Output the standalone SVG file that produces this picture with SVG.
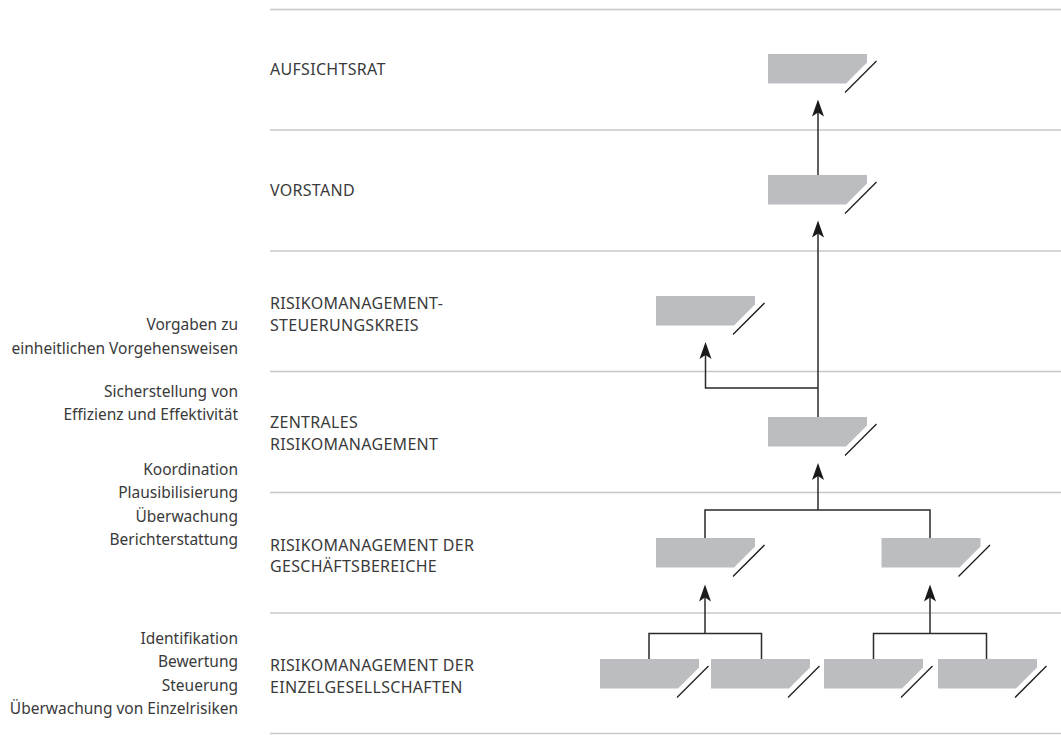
<svg xmlns="http://www.w3.org/2000/svg" xmlns:xlink="http://www.w3.org/1999/xlink" width="1061" height="735" viewBox="0 0 1061 735">
<style>
.sep{stroke:#c8c8c8;stroke-width:1.6;fill:none}
.lbl{font-family:"Noto Sans","Liberation Sans",sans-serif;font-size:16px;fill:#3a3a3a;letter-spacing:0.3px}
.note{font-family:"Noto Sans","Liberation Sans",sans-serif;font-size:15.5px;fill:#3a3a3a;text-anchor:end}
.con{stroke:#2a2a2a;stroke-width:1.5;fill:none}
</style>
<defs>
<marker id="arr" markerUnits="userSpaceOnUse" markerWidth="18" markerHeight="14" viewBox="0 -7 18 14" refX="8" refY="0" orient="auto">
<path d="M17,0 L0,-6 L4,0 L0,6 Z" fill="#1a1a1a"/>
</marker>
<g id="sb">
<path d="M0,0 H99 V8.5 L78,29.5 H0 Z" fill="#bcbdc0"/>
<line x1="108.5" y1="7" x2="77" y2="38.5" stroke="#1a1a1a" stroke-width="1.3"/>
</g>
</defs>
<rect width="1061" height="735" fill="#ffffff"/>
<g id="separators">
<line class="sep" x1="270" y1="9.5" x2="1061" y2="9.5"/>
<line class="sep" x1="270" y1="130" x2="1061" y2="130"/>
<line class="sep" x1="270" y1="251" x2="1061" y2="251"/>
<line class="sep" x1="270" y1="371.5" x2="1061" y2="371.5"/>
<line class="sep" x1="270" y1="492.5" x2="1061" y2="492.5"/>
<line class="sep" x1="270" y1="613" x2="1061" y2="613"/>
<line class="sep" x1="270" y1="733.5" x2="1061" y2="733.5"/>
</g>
<g id="level-labels">
<text class="lbl" x="270" y="75">AUFSICHTSRAT</text>
<text class="lbl" x="270" y="195.5">VORSTAND</text>
<text class="lbl" x="270" y="309">RISIKOMANAGEMENT-</text>
<text class="lbl" x="270" y="330.5">STEUERUNGSKREIS</text>
<text class="lbl" x="270" y="428">ZENTRALES</text>
<text class="lbl" x="270" y="449.5">RISIKOMANAGEMENT</text>
<text class="lbl" x="270" y="550.5">RISIKOMANAGEMENT DER</text>
<text class="lbl" x="270" y="572">GESCHÄFTSBEREICHE</text>
<text class="lbl" x="270" y="671">RISIKOMANAGEMENT DER</text>
<text class="lbl" x="270" y="692.5">EINZELGESELLSCHAFTEN</text>
</g>
<g id="notes">
<text class="note" x="238" y="330">Vorgaben zu</text>
<text class="note" x="238" y="353.5">einheitlichen Vorgehensweisen</text>
<text class="note" x="238" y="396.5">Sicherstellung von</text>
<text class="note" x="238" y="420">Effizienz und Effektivität</text>
<text class="note" x="238" y="474.5">Koordination</text>
<text class="note" x="238" y="498">Plausibilisierung</text>
<text class="note" x="238" y="521.5">Überwachung</text>
<text class="note" x="238" y="545">Berichterstattung</text>
<text class="note" x="238" y="643.5">Identifikation</text>
<text class="note" x="238" y="667">Bewertung</text>
<text class="note" x="238" y="690.5">Steuerung</text>
<text class="note" x="238" y="714">Überwachung von Einzelrisiken</text>
</g>
<g id="connectors">
<path class="con" d="M818,175 V108.5" marker-end="url(#arr)"/>
<path class="con" d="M818,417 V229.5" marker-end="url(#arr)"/>
<path class="con" d="M818,388 H705.5 V351" marker-end="url(#arr)"/>
<path class="con" d="M705,538 V510 H930 V538"/>
<path class="con" d="M818,510 V472" marker-end="url(#arr)"/>
<path class="con" d="M649,659 V633.5 H761.5 V659"/>
<path class="con" d="M705,633.5 V593.5" marker-end="url(#arr)"/>
<path class="con" d="M873.5,659 V633.5 H986.5 V659"/>
<path class="con" d="M930,633.5 V593.5" marker-end="url(#arr)"/>
</g>
<g id="node-aufsichtsrat"><use xlink:href="#sb" transform="translate(768,54)"/></g>
<g id="node-vorstand"><use xlink:href="#sb" transform="translate(768,175)"/></g>
<g id="node-steuerungskreis"><use xlink:href="#sb" transform="translate(656,296)"/></g>
<g id="node-zentrales"><use xlink:href="#sb" transform="translate(768,417)"/></g>
<g id="node-gb1"><use xlink:href="#sb" transform="translate(656,538)"/></g>
<g id="node-gb2"><use xlink:href="#sb" transform="translate(881.5,538)"/></g>
<g id="node-eg1"><use xlink:href="#sb" transform="translate(600,659)"/></g>
<g id="node-eg2"><use xlink:href="#sb" transform="translate(711,659)"/></g>
<g id="node-eg3"><use xlink:href="#sb" transform="translate(824,659)"/></g>
<g id="node-eg4"><use xlink:href="#sb" transform="translate(938,659)"/></g>
</svg>
